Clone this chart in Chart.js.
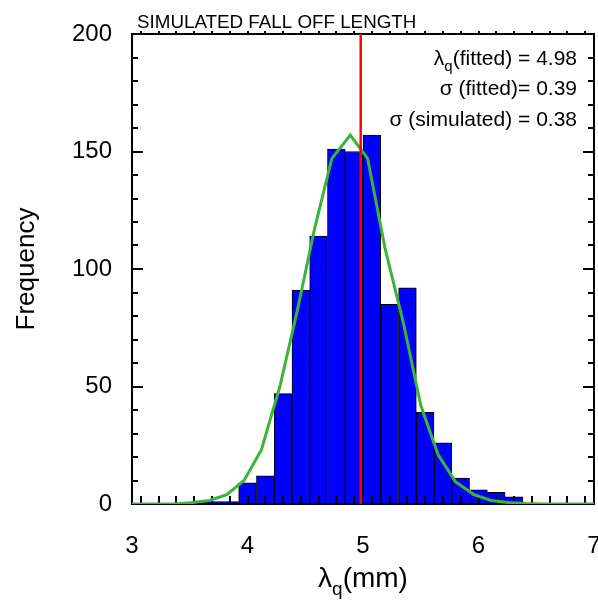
<!DOCTYPE html>
<html>
<head>
<meta charset="utf-8">
<title>Simulated fall off length</title>
<script src="https://cdn.jsdelivr.net/npm/chart.js@4.4.1/dist/chart.umd.min.js"></script>
<style>
  html, body { margin: 0; padding: 0; background: #fff; }
  #wrap { width: 598px; height: 606px; }
</style>
</head>
<body>
<div id="wrap"><canvas id="chart" width="598" height="606"></canvas></div>
<script>
// histogram: 26 bins between 3 and 7 mm
const binCenters = [3.077, 3.231, 3.385, 3.538, 3.692, 3.846, 4.000, 4.154, 4.308, 4.462,
                    4.615, 4.769, 4.923, 5.077, 5.231, 5.385, 5.538, 5.692, 5.846, 6.000,
                    6.154, 6.308, 6.462, 6.615, 6.769, 6.923];
const counts = [0, 0, 0, 0, 1, 1, 9, 12, 47, 91,
                114, 151, 150, 157, 85, 92, 39, 26, 11, 6,
                5, 3, 0, 0, 0, 0];

// gaussian fit, vertices
const fitX = [2.90, 3.06, 3.21, 3.36, 3.51, 3.67, 3.82, 3.97, 4.12, 4.28,
              4.43, 4.58, 4.73, 4.89, 5.04, 5.19, 5.35, 5.50, 5.65, 5.80,
              5.96, 6.11, 6.26, 6.41, 6.57, 6.72, 6.87, 7.03];
const fitY = [0, 0, 0, 0, 0.5, 1.5, 4, 10, 23, 50,
              82, 117, 147, 157, 147, 109, 77, 42, 21, 9.5,
              4, 1.5, 0.6, 0.2, 0, 0, 0, 0];

const lambdaFitted = 4.98;
const xTicks = [3, 4, 5, 6, 7];
const yTicks = [0, 50, 100, 150, 200];
const notes = [
  ['λ', 'q', '(fitted) = 4.98'],
  ['σ (fitted)= 0.39'],
  ['σ (simulated) = 0.38']
];

const FONT = '"Liberation Sans", Arial, sans-serif';

// draws text pieces, a piece in the middle can be a subscript
function drawPieces(ctx, pieces, x, y, align) {
  let total = 0;
  pieces.forEach(p => {
    ctx.font = p.size + 'px ' + FONT;
    p.w = ctx.measureText(p.t).width;
    total += p.w;
  });
  let cx = align === 'right' ? x - total : align === 'center' ? x - total / 2 : x;
  ctx.textAlign = 'left';
  ctx.textBaseline = 'alphabetic';
  pieces.forEach(p => {
    ctx.font = p.size + 'px ' + FONT;
    ctx.fillText(p.t, cx, y + (p.dy || 0));
    cx += p.w;
  });
}

const framePlugin = {
  id: 'frame',
  afterDatasetDraw(chart, args) {
    if (args.index !== 0) return; // right after the bars
    const ctx = chart.ctx;
    const a = chart.chartArea;
    const xs = chart.scales.x, ys = chart.scales.y;
    ctx.save();
    ctx.strokeStyle = '#000';
    ctx.lineWidth = 2;
    ctx.strokeRect(a.left, a.top, a.right - a.left, a.bottom - a.top);
    ctx.beginPath();
    // bottom and top ticks at bin centres
    binCenters.forEach(v => {
      const px = Math.round(xs.getPixelForValue(v));
      ctx.moveTo(px, a.bottom);
      ctx.lineTo(px, a.bottom - 8);
      ctx.moveTo(px, a.top);
      ctx.lineTo(px, a.top - 3);
    });
    // left / right ticks every 10
    for (let v = 10; v < 200; v += 10) {
      const py = Math.round(ys.getPixelForValue(v));
      const len = v % 50 === 0 ? 11 : 6;
      ctx.moveTo(a.left, py);
      ctx.lineTo(a.left + len, py);
      ctx.moveTo(a.right, py);
      ctx.lineTo(a.right - len, py);
    }
    ctx.stroke();
    ctx.restore();
  },
  afterDraw(chart) {
    const ctx = chart.ctx;
    const a = chart.chartArea;
    ctx.save();
    ctx.fillStyle = '#000';
    drawPieces(ctx, [{ t: 'SIMULATED FALL OFF LENGTH', size: 18.8 }], 137, 28, 'left');
    drawPieces(ctx, [
      { t: notes[0][0], size: 21 },
      { t: notes[0][1], size: 15, dy: 6 },
      { t: notes[0][2], size: 21 }
    ], 577, 65, 'right');
    drawPieces(ctx, [{ t: notes[1][0], size: 21 }], 577, 95, 'right');
    drawPieces(ctx, [{ t: notes[2][0], size: 21 }], 577, 126, 'right');
    // x axis title with subscript
    drawPieces(ctx, [
      { t: 'λ', size: 28 },
      { t: 'q', size: 19, dy: 8 },
      { t: '(mm)', size: 28 }
    ], (a.left + a.right) / 2, 587, 'center');
    ctx.restore();
  }
};

const ctx = document.getElementById('chart').getContext('2d');
new Chart(ctx, {
  type: 'bar',
  data: {
    datasets: [
      {
        type: 'bar',
        data: binCenters.map((x, i) => ({ x: x, y: counts[i] })),
        backgroundColor: '#0000ff',
        borderColor: '#000000',
        borderWidth: 1,
        barPercentage: 1,
        categoryPercentage: 1,
        order: 3
      },
      {
        type: 'line',
        data: fitX.map((x, i) => ({ x: x, y: fitY[i] })),
        borderColor: '#3ab53a',
        borderWidth: 3,
        pointRadius: 0,
        tension: 0,
        fill: false,
        order: 2
      },
      {
        type: 'line',
        data: [{ x: lambdaFitted, y: 0 }, { x: lambdaFitted, y: 200 }],
        borderColor: '#ff0000',
        borderWidth: 2.5,
        pointRadius: 0,
        fill: false,
        order: 1
      }
    ]
  },
  plugins: [framePlugin],
  options: {
    responsive: false,
    animation: false,
    events: [],
    layout: { padding: { left: 0, right: 4, top: 34, bottom: 0 } },
    plugins: { legend: { display: false }, tooltip: { enabled: false }, title: { display: false } },
    scales: {
      x: {
        type: 'linear',
        min: 3,
        max: 7,
        offset: false,
        grid: { display: false, drawTicks: false, offset: false },
        border: { display: false },
        afterBuildTicks(s) { s.ticks = xTicks.map(v => ({ value: v })); },
        ticks: { color: '#000', font: { size: 24, family: FONT }, padding: 28, maxRotation: 0 },
        afterFit(s) { s.height = 102; s.paddingLeft = 0; s.paddingRight = 0; }
      },
      y: {
        type: 'linear',
        min: 0,
        max: 200,
        grid: { display: false, drawTicks: false },
        border: { display: false },
        afterBuildTicks(s) { s.ticks = yTicks.map(v => ({ value: v })); },
        ticks: { color: '#000', font: { size: 24, family: FONT }, padding: 20 },
        title: { display: true, text: 'Frequency', color: '#000', font: { size: 26, family: FONT }, padding: { top: 11, bottom: 0 } },
        afterFit(s) { s.width = 132; s.paddingTop = 0; s.paddingBottom = 0; }
      }
    }
  }
});
</script>
</body>
</html>
